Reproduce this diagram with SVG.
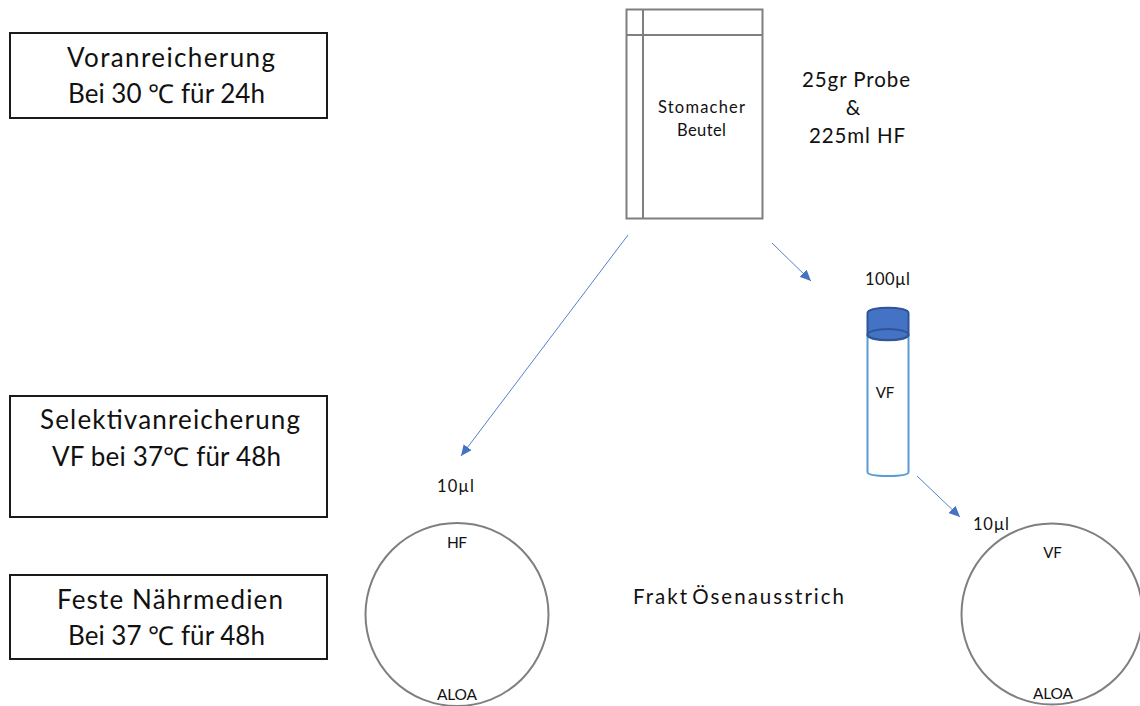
<svg xmlns="http://www.w3.org/2000/svg" width="1140" height="706" viewBox="0 0 1140 706">
<style>
text{font-family:"Lato","Carlito","Open Sans",sans-serif;fill:#111;text-anchor:middle}
.t24{font-size:26px}.t18{font-size:20.500px}.t15{font-size:16.500px}.t13{font-size:15.500px}.vf{font-size:15px}
.box{fill:#fff;stroke:#1a1a1a;stroke-width:2}
.g{fill:none;stroke:#7f7f7f;stroke-width:2}
.c{fill:none;stroke:#4472c4;stroke-width:.9}
</style>
<defs><marker id="ah" markerUnits="userSpaceOnUse" markerWidth="12" markerHeight="10" refX="11" refY="5" orient="auto"><path d="M0 0L11 5L0 10Z" fill="#4472c4"/></marker></defs>
<rect width="1140" height="706" fill="#fff"/>
<g id="connectors">
<line class="c" x1="628" y1="235" x2="461" y2="456" marker-end="url(#ah)"/>
<line class="c" x1="772" y1="243" x2="811" y2="281" marker-end="url(#ah)"/>
<line class="c" x1="917" y1="476" x2="960" y2="517" marker-end="url(#ah)"/>
</g>
<g id="step-voranreicherung"><rect class="box" x="10" y="33" width="317" height="85"/><text class="t24" x="171" y="67" textLength="208">Voranreicherung</text><text class="t24" x="166.500" y="103" textLength="197">Bei 30 ℃ für 24h</text></g>
<g id="step-selektiv"><rect class="box" x="10" y="396" width="317" height="121"/><text class="t24" x="170" y="429" textLength="260">Selektivanreicherung</text><text class="t24" x="166.500" y="466" textLength="229">VF bei 37℃ für 48h</text></g>
<g id="step-feste"><rect class="box" x="10" y="575" width="317" height="84"/><text class="t24" x="170" y="609" textLength="226">Feste Nährmedien</text><text class="t24" x="166.500" y="645" textLength="197">Bei 37 ℃ für 48h</text></g>
<g id="bag"><rect class="g" x="626.500" y="9.500" width="136" height="209"/><line class="g" x1="643" y1="9" x2="643" y2="219"/><line class="g" x1="626" y1="35" x2="763" y2="35"/><text class="t15" x="701.500" y="113" textLength="87">Stomacher</text><text class="t15" x="701.500" y="136" textLength="49">Beutel</text></g>
<g id="sample-label"><text class="t18" x="856" y="87" textLength="108">25gr Probe</text><text class="t18" x="853" y="115">&amp;</text><text class="t18" x="857" y="143" textLength="96">225ml HF</text></g>
<g id="tube">
<path d="M867.500 335V472Q867.500 476 888 476Q908.500 476 908.500 472V335" fill="#fff" stroke="#5b9bd5" stroke-width="2"/>
<path d="M867.500 313C867.500 306 908.500 306 908.500 313V335C908.500 342 867.500 342 867.500 335Z" fill="#4472c4" stroke="#2f5597" stroke-width="2"/>
<ellipse cx="888" cy="334.500" rx="20.500" ry="5.500" fill="#4472c4" stroke="#2f5597" stroke-width="2"/>
<text class="vf" x="885" y="398">VF</text></g>
<g id="label-100"><text class="t15" x="887.500" y="285" textLength="45">100µl</text></g>
<g id="label-10-left"><text class="t15" x="455.500" y="492" textLength="37">10µl</text></g>
<g id="label-10-right"><text class="t15" x="991" y="530" textLength="36">10µl</text></g>
<g id="plate-hf"><circle class="g" cx="457" cy="614.500" r="91.500"/><text class="t13" x="457" y="548" textLength="20">HF</text><text class="t13" x="457" y="700" textLength="40">ALOA</text></g>
<g id="plate-vf"><circle class="g" cx="1052" cy="614" r="90.500"/><text class="vf" x="1052.500" y="558">VF</text><text class="t13" x="1053" y="699" textLength="40">ALOA</text></g>
<g id="method"><text class="t18" x="738.500" y="604" textLength="211" style="word-spacing:-4px">Frakt Ösenausstrich</text></g>
</svg>
